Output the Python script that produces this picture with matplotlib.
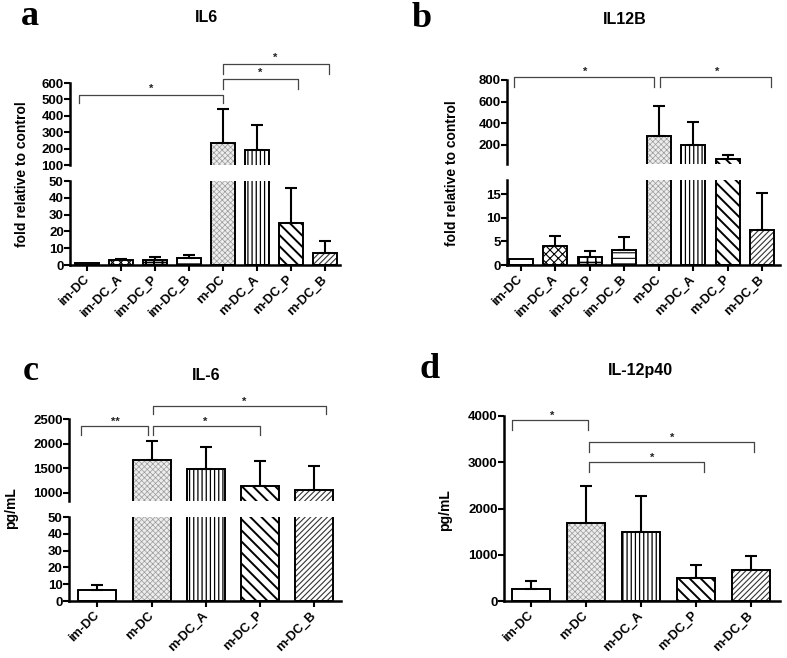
import numpy as np
import matplotlib
matplotlib.use("Agg")
import matplotlib.pyplot as plt

plt.rcParams['font.family'] = ['Liberation Sans', 'DejaVu Sans']
plt.rcParams['font.weight'] = 'bold'

W, H = 787, 658

# ---------------- data ----------------
labels8 = ['im-DC', 'im-DC_A', 'im-DC_P', 'im-DC_B', 'm-DC', 'm-DC_A', 'm-DC_P', 'm-DC_B']
labels5 = ['im-DC', 'm-DC', 'm-DC_A', 'm-DC_P', 'm-DC_B']

a_mean = [1.0, 3.0, 3.0, 4.4, 232, 191, 24.8, 7.3]
a_err_top = [1.0, 3.5, 5.0, 6.0, 444, 341, 45.6, 14.3]

b_mean = [1.2, 4.1, 1.8, 3.1, 283, 200, 62, 7.5]
b_err_top = [1.2, 6.2, 3.0, 5.9, 560, 406, 108, 15.2]

c_mean = [6.4, 1670, 1480, 1137, 1048]
c_err_top = [9.8, 2050, 1920, 1637, 1534]

d_mean = [267, 1687, 1492, 505, 663]
d_err_top = [433, 2488, 2264, 772, 966]

# hatch style per group: (hatch, hatch color, hatch linewidth, face colour)
hatch_style = {
    'im-DC': ('', 'black', 0.8, 'white'),
    'im-DC_A': ('xxxx', 'black', 0.8, 'white'),
    'im-DC_P': ('++', 'black', 1.2, 'white'),
    'im-DC_B': ('---', 'black', 0.8, 'white'),
    'm-DC': ('xxxxxx', '#9a9a9a', 0.5, '#ededed'),
    'm-DC_A': ('||||', 'black', 0.9, 'white'),
    'm-DC_P': ('\\\\\\', 'black', 1.4, 'white'),
    'm-DC_B': ('//////', '#333333', 0.8, 'white'),
}

TICK_FS = 9.5
XLAB_FS = 9.2
YLAB_FS = 10

fig = plt.figure(figsize=(W / 100, H / 100), dpi=100)


def pos(l, t, r, b):
    return [l / W, 1 - b / H, (r - l) / W, (b - t) / H]


def style_ax(ax, bottom=True):
    for s in ['top', 'right']:
        ax.spines[s].set_visible(False)
    ax.spines['left'].set_linewidth(1.8)
    ax.spines['bottom'].set_linewidth(1.8)
    ax.tick_params(axis='y', direction='out', length=4, width=1.5, labelsize=TICK_FS, pad=0.5)
    ax.tick_params(axis='x', direction='out', length=4, width=1.5, labelsize=XLAB_FS, pad=5)
    if not bottom:
        ax.spines['bottom'].set_visible(False)
        ax.tick_params(axis='x', bottom=False, labelbottom=False)
    for lab in ax.get_yticklabels():
        lab.set_fontweight('bold')


def draw_bars(ax, labels, mean, err_top, ylo, yhi):
    x = np.arange(len(labels))
    for i, lab in enumerate(labels):
        h, hc, hlw, fc = hatch_style[lab]
        with plt.rc_context({'hatch.linewidth': hlw}):
            ax.bar(x[i], mean[i], width=0.7, color=fc, edgecolor=hc,
                   hatch=h, linewidth=0, zorder=2)
        ax.bar(x[i], mean[i], width=0.7, fill=False, edgecolor='black',
               linewidth=1.4, zorder=3)
    mean = np.asarray(mean, float)
    err_top = np.asarray(err_top, float)
    sel = (err_top > mean) & (err_top >= ylo) & (mean <= yhi)
    if sel.any():
        up = err_top[sel] - mean[sel]
        ax.errorbar(x[sel], mean[sel], yerr=[np.zeros_like(up), up], fmt='none',
                    ecolor='black', elinewidth=1.5, capsize=4, capthick=1.5, zorder=4)
    ax.set_ylim(ylo, yhi)
    return x


def bracket(ax, x1, x2, y, yd1, yd2):
    ax.plot([x1, x1, x2, x2], [yd1, y, y, yd2], color='#444444', lw=0.9,
            clip_on=False, zorder=5)


def star(ax, x, y, s='*'):
    ax.text(x, y, s, ha='center', va='center', fontsize=8, fontweight='bold',
            color='#222222', clip_on=False)


def set_xlabels(ax, labels):
    ax.set_xticks(np.arange(len(labels)))
    ax.set_xticklabels(labels, rotation=45, ha='right', va='center',
                       rotation_mode='anchor', fontweight='bold', fontsize=XLAB_FS)


# ---------------- panel a ----------------
ax_at = fig.add_axes(pos(70, 83, 340, 165))
ax_ab = fig.add_axes(pos(70, 181, 340, 265))
draw_bars(ax_at, labels8, a_mean, a_err_top, 100, 600)
draw_bars(ax_ab, labels8, a_mean, a_err_top, 0, 50)
for ax in (ax_at, ax_ab):
    ax.set_xlim(-0.5, 7.45)
ax_at.set_yticks([100, 200, 300, 400, 500, 600])
ax_ab.set_yticks([0, 10, 20, 30, 40, 50])
style_ax(ax_at, bottom=False)
style_ax(ax_ab)
set_xlabels(ax_ab, labels8)
bracket(ax_at, -0.24, 4.0, 527, 478, 478)
star(ax_at, 1.9, 565)
bracket(ax_at, 4.0, 6.2, 624, 563, 563)
star(ax_at, 5.1, 660)
bracket(ax_at, 4.0, 7.12, 716, 655, 655)
star(ax_at, 5.55, 752)

# ---------------- panel b ----------------
ax_bt = fig.add_axes(pos(507, 80, 780, 164))
ax_bb = fig.add_axes(pos(507, 180, 780, 265))
draw_bars(ax_bt, labels8, b_mean, b_err_top, 20, 800)
draw_bars(ax_bb, labels8, b_mean, b_err_top, 0, 18)
for ax in (ax_bt, ax_bb):
    ax.set_xlim(-0.4, 7.51)
ax_bt.set_yticks([200, 400, 600, 800])
ax_bb.set_yticks([0, 5, 10, 15])
style_ax(ax_bt, bottom=False)
style_ax(ax_bb)
set_xlabels(ax_bb, labels8)
bracket(ax_bt, -0.19, 3.87, 825, 733, 733)
star(ax_bt, 1.86, 880)
bracket(ax_bt, 4.02, 7.26, 825, 733, 733)
star(ax_bt, 5.68, 880)

# ---------------- panel c ----------------
ax_ct = fig.add_axes(pos(69, 419, 341, 501))
ax_cb = fig.add_axes(pos(69, 517, 341, 601))
draw_bars(ax_ct, labels5, c_mean, c_err_top, 830, 2500)
draw_bars(ax_cb, labels5, c_mean, c_err_top, 0, 50)
for ax in (ax_ct, ax_cb):
    ax.set_xlim(-0.52, 4.49)
ax_ct.set_yticks([1000, 1500, 2000, 2500])
ax_cb.set_yticks([0, 10, 20, 30, 40, 50])
style_ax(ax_ct, bottom=False)
style_ax(ax_cb)
set_xlabels(ax_cb, labels5)
bracket(ax_ct, -0.29, 0.94, 2349, 2180, 2180)
star(ax_ct, 0.33, 2440, '**')
bracket(ax_ct, 1.03, 3.0, 2349, 2180, 2180)
star(ax_ct, 1.99, 2440)
bracket(ax_ct, 1.02, 4.22, 2757, 2608, 2608)
star(ax_ct, 2.7, 2840)

# ---------------- panel d ----------------
ax_d = fig.add_axes(pos(504, 416, 780, 601))
draw_bars(ax_d, labels5, d_mean, d_err_top, 0, 4000)
ax_d.set_xlim(-0.49, 4.53)
ax_d.set_yticks([0, 1000, 2000, 3000, 4000])
style_ax(ax_d)
set_xlabels(ax_d, labels5)
bracket(ax_d, -0.35, 1.03, 3922, 3706, 3706)
star(ax_d, 0.38, 4010)
bracket(ax_d, 1.05, 4.06, 3438, 3222, 3222)
star(ax_d, 2.56, 3525)
bracket(ax_d, 1.05, 3.14, 3000, 2784, 2784)
star(ax_d, 2.2, 3085)

# ---------------- texts ----------------
def ftext(x, y, s, **kw):
    fig.text(x / W, 1 - y / H, s, **kw)

ftext(22, 174, 'fold relative to control', rotation=90, ha='center', va='center',
      fontsize=YLAB_FS, fontweight='bold')
ftext(452, 173, 'fold relative to control', rotation=90, ha='center', va='center',
      fontsize=YLAB_FS, fontweight='bold')
ftext(11, 508, 'pg/mL', rotation=90, ha='center', va='center', fontsize=YLAB_FS,
      fontweight='bold')
ftext(445, 510, 'pg/mL', rotation=90, ha='center', va='center', fontsize=YLAB_FS,
      fontweight='bold')

ftext(207, 18, 'IL6', ha='center', va='center', fontsize=11.5, fontweight='bold')
ftext(625, 19, 'IL12B', ha='center', va='center', fontsize=11.5, fontweight='bold')
ftext(206, 376, 'IL-6', ha='center', va='center', fontsize=11.5, fontweight='bold')
ftext(640, 371, 'IL-12p40', ha='center', va='center', fontsize=11.5, fontweight='bold')

serif = ['Liberation Serif', 'DejaVu Serif']
ftext(30, 25, 'a', ha='center', va='baseline', fontsize=26, fontweight='bold', family=serif)
ftext(422, 27, 'b', ha='center', va='baseline', fontsize=26, fontweight='bold', family=serif)
ftext(31, 380, 'c', ha='center', va='baseline', fontsize=26, fontweight='bold', family=serif)
ftext(430, 378, 'd', ha='center', va='baseline', fontsize=26, fontweight='bold', family=serif)

fig.savefig('out.png', dpi=100)
